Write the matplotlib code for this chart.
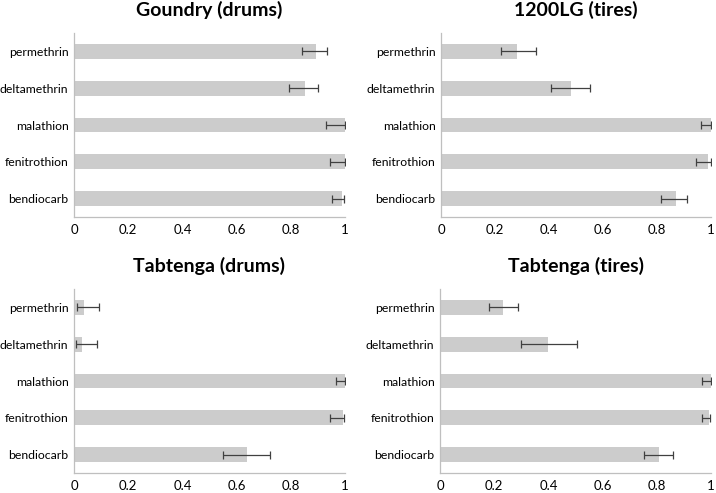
import matplotlib as mpl
mpl.use('Agg')
import matplotlib.pyplot as plt
from matplotlib.ticker import FuncFormatter

plt.rcParams['font.family'] = ['Lato', 'DejaVu Sans']

insecticides = ['permethrin', 'deltamethrin', 'malathion', 'fenitrothion', 'bendiocarb']
titles = ['Goundry (drums)', '1200LG (tires)', 'Tabtenga (drums)', 'Tabtenga (tires)']

# mortality and lower / upper limits of the error bars, one list per site
goundry = [0.892, 0.852, 1.0, 1.0, 0.990]
goundry_lo = [0.840, 0.793, 0.929, 0.946, 0.951]
goundry_hi = [0.933, 0.899, 1.0, 1.0, 0.998]

lg1200 = [0.283, 0.480, 1.0, 0.990, 0.869]
lg1200_lo = [0.222, 0.409, 0.963, 0.946, 0.815]
lg1200_hi = [0.352, 0.553, 1.0, 1.0, 0.911]

tab_drums = [0.038, 0.031, 1.0, 0.991, 0.640]
tab_drums_lo = [0.012, 0.007, 0.966, 0.946, 0.549]
tab_drums_hi = [0.094, 0.086, 1.0, 0.998, 0.724]

tab_tires = [0.231, 0.400, 1.0, 0.991, 0.808]
tab_tires_lo = [0.182, 0.300, 0.968, 0.966, 0.752]
tab_tires_hi = [0.287, 0.506, 1.0, 0.998, 0.860]

series = [(goundry, goundry_lo, goundry_hi),
          (lg1200, lg1200_lo, lg1200_hi),
          (tab_drums, tab_drums_lo, tab_drums_hi),
          (tab_tires, tab_tires_lo, tab_tires_hi)]

W, H = 716, 493
fig = plt.figure(figsize=(W / 100, H / 100), dpi=100)

# axes boxes in pixels: left, top, right, bottom
boxes = [(74, 33, 345, 217), (441, 33, 711, 217),
         (74, 289, 345, 473), (440, 289, 711, 473)]

def fmt(v, pos):
    if abs(v) < 1e-9:
        return '0'
    if abs(v - 1) < 1e-9:
        return '1'
    return '%.1f' % v

for (l, t, r, b), title, (vals, lo, hi) in zip(boxes, titles, series):
    ax = fig.add_axes([l / W, 1 - b / H, (r - l) / W, (b - t) / H])
    y = list(range(len(insecticides)))
    err = [[v - a for v, a in zip(vals, lo)], [c - v for v, c in zip(vals, hi)]]
    ax.barh(y, vals, height=0.4, color='#cccccc', zorder=2)
    ax.errorbar(vals, y, xerr=err, fmt='none', ecolor='#404040',
                elinewidth=0.9, capsize=2.8, capthick=0.9, zorder=3)
    ax.set_xlim(0, 1)
    ax.set_ylim(4.5, -0.5)
    ax.set_yticks(y)
    ax.set_yticklabels(insecticides, fontsize=8.8)
    ax.set_xticks([0, 0.2, 0.4, 0.6, 0.8, 1.0])
    ax.xaxis.set_major_formatter(FuncFormatter(fmt))
    ax.tick_params(axis='x', labelsize=9.5, length=0, pad=5)
    ax.tick_params(axis='y', length=0, pad=4)
    for s in ['top', 'right']:
        ax.spines[s].set_visible(False)
    for s in ['left', 'bottom']:
        ax.spines[s].set_color('#bfbfbf')
        ax.spines[s].set_linewidth(0.9)
    ax.set_title(title, fontsize=14, fontweight='bold', pad=12)

fig.savefig('out.png', dpi=100)
